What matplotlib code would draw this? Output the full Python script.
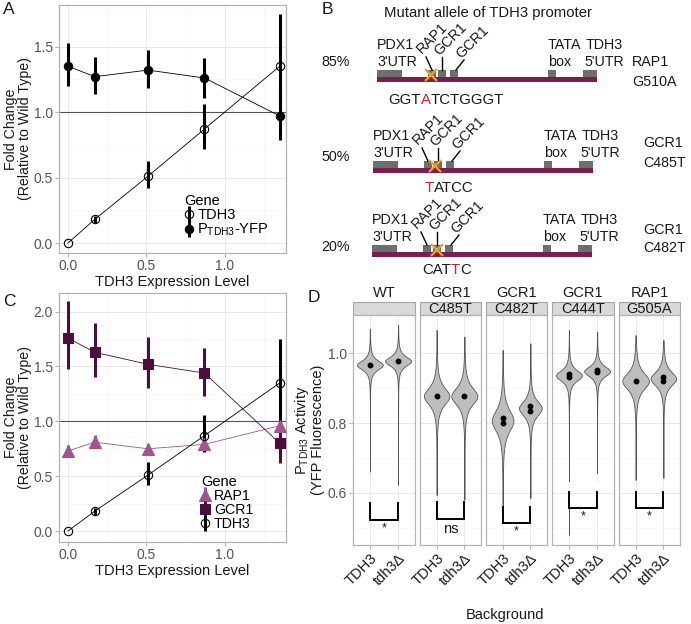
import numpy as np
import matplotlib
matplotlib.use('Agg')
import matplotlib.pyplot as plt
from matplotlib.patches import Rectangle
from matplotlib.lines import Line2D
from matplotlib.ticker import FormatStrFormatter, MultipleLocator, FixedLocator
from matplotlib.legend_handler import HandlerTuple

plt.rcParams['font.family'] = ['Liberation Sans', 'DejaVu Sans']
plt.rcParams['mathtext.fontset'] = 'custom'
plt.rcParams['mathtext.rm'] = 'Liberation Sans'
plt.rcParams['mathtext.it'] = 'Liberation Sans:italic'
plt.rcParams['mathtext.bf'] = 'Liberation Sans:bold'

# ---------------- data ----------------
expr_level = [0.0, 0.17, 0.51, 0.87, 1.35]
tdh3_fc = [0.0, 0.18, 0.51, 0.87, 1.35]
tdh3_lo = [0.0, 0.15, 0.42, 0.72, 0.95]
tdh3_hi = [0.0, 0.21, 0.63, 1.06, 1.75]
yfp_fc = [1.35, 1.27, 1.32, 1.26, 0.97]
yfp_lo = [1.20, 1.14, 1.18, 1.11, 0.79]
yfp_hi = [1.53, 1.42, 1.47, 1.41, 1.16]
gcr1_fc = [1.76, 1.63, 1.52, 1.44, 0.80]
gcr1_lo = [1.48, 1.40, 1.30, 1.23, 0.62]
gcr1_hi = [2.10, 1.90, 1.77, 1.67, 0.97]
rap1_fc = [0.73, 0.81, 0.75, 0.79, 0.96]
rap1_lo = [0.68, 0.76, 0.71, 0.74, 0.91]
rap1_hi = [0.78, 0.88, 0.79, 0.84, 1.01]

promoter_pct = ['85%', '50%', '20%']
mutant_site = ['RAP1', 'GCR1', 'GCR1']
mutant_name = ['G510A', 'C485T', 'C482T']
mutant_seq = ['GGTATCTGGGT', 'TATCC', 'CATTC']
mutant_base_index = [3, 0, 3]

facet_line1 = ['WT', 'GCR1', 'GCR1', 'GCR1', 'RAP1']
facet_line2 = ['', 'C485T', 'C482T', 'C444T', 'G505A']
backgrounds = ['TDH3', 'tdh3Δ']
violin_mode = [[0.966, 0.977], [0.877, 0.877], [0.807, 0.842], [0.936, 0.948], [0.920, 0.927]]
violin_spread = [[0.015, 0.015], [0.028, 0.028], [0.035, 0.024], [0.017, 0.016], [0.027, 0.023]]
violin_halfwidth = [[0.46, 0.46], [0.46, 0.47], [0.39, 0.41], [0.46, 0.46], [0.48, 0.46]]
violin_min = [[0.661, 0.623], [0.594, 0.580], [0.560, 0.585], [0.480, 0.657], [0.637, 0.643]]
violin_max = [[1.069, 1.080], [1.066, 1.047], [1.009, 1.028], [1.066, 1.061], [1.051, 1.037]]
replicate_medians = [[[0.966], [0.977]], [[0.877], [0.877]],
                     [[0.815, 0.799], [0.849, 0.835]],
                     [[0.940, 0.932], [0.951, 0.945]],
                     [[0.920], [0.932, 0.921]]]
bracket_top = [0.571, 0.574, 0.560, 0.603, 0.603]
bracket_bottom = [0.523, 0.526, 0.514, 0.557, 0.557]
sig_label = ['*', 'ns', '*', '*', '*']

# ---------------- style ----------------
W, H = 691, 624
fig = plt.figure(figsize=(W / 100, H / 100), dpi=100)

GCR1_COL = '#4A0F3E'
RAP1_COL = '#A0558F'
BAR_COL = '#7B1E4E'
GRID_MAJ = '#e6e6e6'
GRID_MIN = '#f3f3f3'
BORDER = '#b3b3b3'
TXT = '#555555'
DARK = '#1a1a1a'


def px_axes(l, t, r, b, **kw):
    return fig.add_axes([l / W, 1 - b / H, (r - l) / W, (b - t) / H], **kw)


def style_axes(ax):
    ax.set_facecolor('white')
    for s in ax.spines.values():
        s.set_color(BORDER)
        s.set_linewidth(0.9)
    ax.tick_params(which='major', length=3, color=BORDER, labelcolor=TXT,
                   labelsize=10, pad=1.5, width=0.8)
    ax.tick_params(which='minor', length=0)
    ax.grid(which='major', color=GRID_MAJ, lw=0.6)
    ax.grid(which='minor', color=GRID_MIN, lw=0.4)
    ax.set_axisbelow(True)


def fold_panel(ax, series, ylim, ymax_tick):
    style_axes(ax)
    ax.set_xlim(-0.057, 1.39)
    ax.set_ylim(*ylim)
    ax.xaxis.set_major_locator(MultipleLocator(0.5))
    ax.xaxis.set_minor_locator(MultipleLocator(0.25))
    ax.yaxis.set_major_locator(FixedLocator(np.arange(0, ymax_tick + 0.01, 0.5)))
    ax.yaxis.set_minor_locator(FixedLocator(np.arange(0.25, ymax_tick + 0.3, 0.5)))
    ax.xaxis.set_major_formatter(FormatStrFormatter('%.1f'))
    ax.yaxis.set_major_formatter(FormatStrFormatter('%.1f'))
    ax.axhline(1.0, color='#555555', lw=0.8, zorder=1.5)
    for (yv, lo, hi, col, mk, ms, mfc) in series:
        ax.plot(expr_level, yv, color=col, lw=0.6, zorder=2)
    for (yv, lo, hi, col, mk, ms, mfc) in series:
        ax.errorbar(expr_level, yv, yerr=[np.subtract(yv, lo), np.subtract(hi, yv)],
                    fmt='none', ecolor=col, elinewidth=2.2, capsize=0, zorder=3)
    handles = []
    for (yv, lo, hi, col, mk, ms, mfc) in series:
        ax.plot(expr_level, yv, linestyle='none', marker=mk, ms=ms,
                mfc=mfc, mec=col, mew=0.8, zorder=4)
        bar = Line2D([], [], linestyle='none', marker='|', ms=12, mew=2.2, color=col)
        pt = Line2D([], [], linestyle='none', marker=mk, ms=ms, mfc=mfc, mec=col, mew=0.8)
        handles.append((bar, pt))
    ax.set_xlabel('TDH3 Expression Level', fontsize=10.5, color=DARK, labelpad=1.5)
    ax.set_ylabel('Fold Change\n(Relative to Wild Type)', fontsize=10.2, color=DARK,
                  linespacing=1.0)
    ax.yaxis.set_label_coords(-0.118, 0.5)
    return handles


# ---------------- Panel A ----------------
axA = px_axes(59, 5, 286, 253)
hA = fold_panel(axA, [
    (tdh3_fc, tdh3_lo, tdh3_hi, 'black', 'o', 6, 'none'),
    (yfp_fc, yfp_lo, yfp_hi, 'black', 'o', 6, 'black'),
], (-0.076, 1.817), 1.5)
axA.legend(hA, ['TDH3', r'P$_{\mathregular{TDH3}}$-YFP'], title='Gene',
           handler_map={tuple: HandlerTuple(ndivide=1)},
           loc='lower left', bbox_to_anchor=(0.52, 0.03), frameon=False,
           fontsize=10.5, title_fontsize=10.5, handlelength=0.6,
           handletextpad=0.3, labelspacing=0.0, borderpad=0, alignment='left')

# ---------------- Panel C ----------------
axC = px_axes(59, 293, 286, 542)
hC = fold_panel(axC, [
    (rap1_fc, rap1_lo, rap1_hi, RAP1_COL, '^', 8, RAP1_COL),
    (gcr1_fc, gcr1_lo, gcr1_hi, GCR1_COL, 's', 7, GCR1_COL),
    (tdh3_fc, tdh3_lo, tdh3_hi, 'black', 'o', 6, 'none'),
], (-0.10, 2.17), 2.0)
axC.legend(hC, ['RAP1', 'GCR1', 'TDH3'], title='Gene',
           handler_map={tuple: HandlerTuple(ndivide=1)},
           loc='lower left', bbox_to_anchor=(0.595, 0.015), frameon=False,
           fontsize=10.2, title_fontsize=10.5, handlelength=0.6, handleheight=0.6,
           handletextpad=0.3, labelspacing=0.0, borderpad=0, alignment='left')

# ---------------- Panel D ----------------
facet_l = [353, 420, 486, 552, 619]
facet_r = [415, 481, 547, 614, 680]
D_TOP, D_BOT = 315, 545
mask_band = [None, None, None, (0.603, 0.632), None]
for i in range(5):
    ax = px_axes(facet_l[i], D_TOP, facet_r[i], D_BOT)
    style_axes(ax)
    ax.set_xlim(0.4, 2.6)
    ax.set_ylim(0.451, 1.109)
    ax.set_xticks([1, 2])
    ax.set_xticklabels(backgrounds, rotation=45, ha='right', va='top',
                       rotation_mode='anchor', color=DARK, fontsize=10.5)
    ax.yaxis.set_major_locator(FixedLocator([0.6, 0.8, 1.0]))
    ax.yaxis.set_minor_locator(FixedLocator([0.5, 0.7, 0.9]))
    ax.yaxis.set_major_formatter(FormatStrFormatter('%.1f'))
    if i > 0:
        ax.tick_params(axis='y', which='both', length=0, labelleft=False)
    else:
        ax.set_ylabel(r'P$_{\mathregular{TDH3}}$ Activity' + '\n(YFP Fluorescence)',
                      fontsize=10.5, color=DARK, linespacing=1.05)
        ax.yaxis.set_label_coords(-0.45, 0.5)
    for j in range(2):
        pos = j + 1
        yy = np.linspace(violin_min[i][j], violin_max[i][j], 600)
        z = (yy - violin_mode[i][j]) / violin_spread[i][j]
        w = violin_halfwidth[i][j] * (1 + z ** 2 / 2) ** -1.5
        ax.fill_betweenx(yy, pos - w, pos + w, facecolor='#bdbdbd',
                         edgecolor='#555555', lw=0.6, zorder=2)
        meds = replicate_medians[i][j]
        ax.plot([pos] * len(meds), meds, 'o', color='black', ms=3.2, zorder=3)
    if mask_band[i] is not None:
        ax.add_patch(Rectangle((0.4, mask_band[i][0]), 2.2,
                               mask_band[i][1] - mask_band[i][0],
                               facecolor='white', edgecolor='none', zorder=2.5))
    ax.plot([1, 1, 2, 2], [bracket_top[i], bracket_bottom[i], bracket_bottom[i], bracket_top[i]],
            color='black', lw=1.4, zorder=4, solid_joinstyle='miter')
    ax.text(1.5, bracket_bottom[i] - 0.008, sig_label[i], ha='center', va='top',
            fontsize=10.5 if sig_label[i] == 'ns' else 9, color=DARK, zorder=4)
    sh = 13 / (D_BOT - D_TOP)
    ax.add_patch(Rectangle((0, 1.0), 1, sh, transform=ax.transAxes, clip_on=False,
                           facecolor='#d9d9d9', edgecolor='#a6a6a6', lw=0.8))
    ax.text(0.5, 1 + (D_TOP - 293) / (D_BOT - D_TOP), facet_line1[i],
            transform=ax.transAxes, ha='center', va='center', fontsize=10.5, color=DARK)
    if facet_line2[i]:
        ax.text(0.5, 1 + (D_TOP - 309) / (D_BOT - D_TOP), facet_line2[i],
                transform=ax.transAxes, ha='center', va='center', fontsize=10.5, color=DARK)

# ---------------- overlay (panel B, labels) ----------------
ov = fig.add_axes([0, 0, 1, 1], zorder=10)
ov.set_xlim(0, W)
ov.set_ylim(H, 0)
ov.axis('off')
ov.patch.set_visible(False)

for lab, (x, y) in zip('ABCD', [(9, 10), (327, 10), (9, 302), (314, 297)]):
    ov.text(x, y, lab, ha='center', va='center', fontsize=12.5, color=DARK)

ov.text(505, 615, 'Background', ha='center', va='center', fontsize=10.5, color=DARK)
ov.text(488, 13, 'Mutant allele of TDH3 promoter', ha='center', va='center',
        fontsize=10.7, color=DARK)

renderer = fig.canvas.get_renderer()
FS_B = 10.3


def colored_seq(x, y, s, idx):
    parts = [(s[:idx], DARK), (s[idx], '#d0202a'), (s[idx + 1:], DARK)]
    for p, c in parts:
        if not p:
            continue
        t = ov.text(x, y, p, color=c, ha='left', va='center', fontsize=FS_B + 0.5)
        x += t.get_window_extent(renderer=renderer).width


row_left = [377, 373, 372]
row_top = [77, 168, 252]
mark_rel = [54, 62, 65]
pct_y = [62, 157, 247]
right_x = [632, 643, 643]
right_y = [(62, 82), (143, 163), (230, 248)]
seq_pos = [(388, 100), (425, 188), (422, 270)]
BOX_COL = '#6e6e6e'
for r in range(3):
    x0, t0 = row_left[r], row_top[r]
    ov.add_patch(Rectangle((x0, t0), 220, 5, facecolor=BAR_COL, edgecolor='none'))
    for (a, b) in [(0, 25), (51, 59), (61, 69), (73, 81), (171, 179), (206, 220)]:
        ov.add_patch(Rectangle((x0 + a, t0 - 7), b - a, 7, facecolor=BOX_COL, edgecolor='none'))
    ov.text(x0, t0 - 32, 'PDX1', ha='left', va='center', fontsize=FS_B, color=DARK)
    ov.text(x0, t0 - 15, "3'UTR", ha='left', va='center', fontsize=FS_B, color=DARK)
    ov.text(x0 + 171, t0 - 32, 'TATA', ha='left', va='center', fontsize=FS_B, color=DARK)
    ov.text(x0 + 171, t0 - 15, 'box', ha='left', va='center', fontsize=FS_B, color=DARK)
    ov.text(x0 + 209, t0 - 32, 'TDH3', ha='left', va='center', fontsize=FS_B, color=DARK)
    ov.text(x0 + 207, t0 - 15, "5'UTR", ha='left', va='center', fontsize=FS_B, color=DARK)
    for name, (ax_, ay_), (l1, l2) in [
        ('RAP1', (45, -23), ((49, -20), (55, -7))),
        ('GCR1', (62, -21), ((65, -20), (65, -7))),
        ('GCR1', (84, -18), ((87, -17), (79, -7))),
    ]:
        ov.text(x0 + ax_, t0 + ay_, name, rotation=45, rotation_mode='anchor',
                ha='left', va='baseline', fontsize=FS_B, color=DARK)
        ov.plot([x0 + l1[0], x0 + l2[0]], [t0 + l1[1], t0 + l2[1]], color='black', lw=1.0)
    ov.plot([x0 + mark_rel[r]], [t0 - 2], marker='x', ms=8, mew=1.6, color='#F2A02C', zorder=12)
    ov.text(336, pct_y[r], promoter_pct[r], ha='center', va='center', fontsize=FS_B, color=DARK)
    ov.text(right_x[r], right_y[r][0], mutant_site[r], ha='left', va='center', fontsize=FS_B, color=DARK)
    ov.text(right_x[r], right_y[r][1], mutant_name[r], ha='left', va='center', fontsize=FS_B, color=DARK)
    colored_seq(seq_pos[r][0], seq_pos[r][1], mutant_seq[r], mutant_base_index[r])

fig.savefig('out.png', dpi=100)
